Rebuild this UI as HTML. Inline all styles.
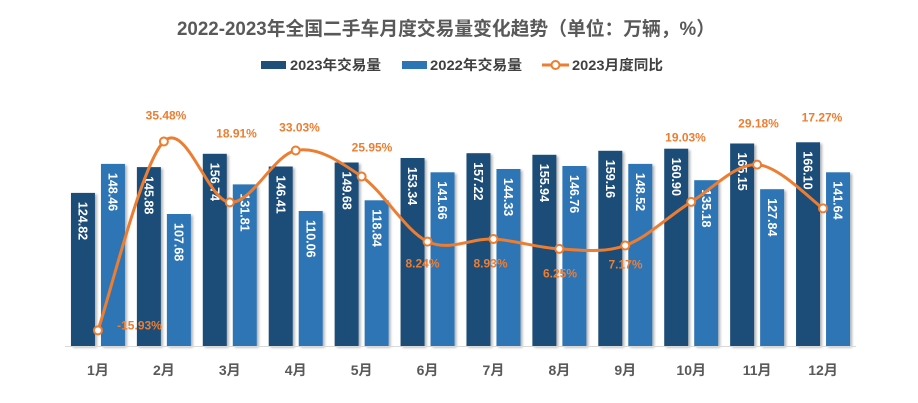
<!DOCTYPE html>
<html><head><meta charset="utf-8"><style>
html,body{margin:0;padding:0;background:#fff;}
svg{display:block;font-family:"Liberation Sans","Noto Sans CJK SC",sans-serif;}
.bl{font-size:12.5px;font-weight:bold;fill:#fff;}
.pl{font-size:12px;font-weight:bold;fill:#ED7D31;text-anchor:middle;}
.ml{font-size:14px;font-weight:bold;fill:#595959;text-anchor:middle;}
.lg{font-size:14px;font-weight:bold;fill:#404040;}
</style></head><body>
<svg width="918" height="403" viewBox="0 0 918 403" xmlns="http://www.w3.org/2000/svg">
<defs>
<filter id="sh" x="-20%" y="-5%" width="150%" height="115%">
<feDropShadow dx="2" dy="1.5" stdDeviation="1.3" flood-color="#000" flood-opacity="0.3"/>
</filter>
</defs>
<rect width="918" height="403" fill="#fff"/>
<text x="446" y="35" text-anchor="middle" font-size="19" font-weight="bold" fill="#595959" textLength="538" lengthAdjust="spacingAndGlyphs">2022-2023年全国二手车月度交易量变化趋势（单位：万辆，%）</text>

<!-- legend -->
<rect x="261" y="61" width="25" height="8" fill="#1F4E79"/>
<text class="lg" x="290" y="70" textLength="91" lengthAdjust="spacingAndGlyphs">2023年交易量</text>
<rect x="402" y="61" width="25" height="8" fill="#2E75B6"/>
<text class="lg" x="430" y="70" textLength="92" lengthAdjust="spacingAndGlyphs">2022年交易量</text>
<line x1="542" y1="65" x2="569" y2="65" stroke="#ED7D31" stroke-width="3"/>
<circle cx="555.5" cy="65" r="4" fill="#fff" stroke="#ED7D31" stroke-width="2"/>
<text class="lg" x="572" y="70" textLength="91" lengthAdjust="spacingAndGlyphs">2023月度同比</text>

<!-- bars -->
<g filter="url(#sh)">
<rect x="70.96" y="192.9" width="24" height="153.1" fill="#1F4E79"/>
<rect x="100.96" y="163.9" width="24" height="182.1" fill="#2E75B6"/>
<rect x="136.88" y="167.1" width="24" height="178.9" fill="#1F4E79"/>
<rect x="166.88" y="214.0" width="24" height="132.0" fill="#2E75B6"/>
<rect x="202.79" y="153.8" width="24" height="192.2" fill="#1F4E79"/>
<rect x="232.79" y="184.4" width="24" height="161.6" fill="#2E75B6"/>
<rect x="268.71" y="166.5" width="24" height="179.5" fill="#1F4E79"/>
<rect x="298.71" y="211.0" width="24" height="135.0" fill="#2E75B6"/>
<rect x="334.63" y="162.5" width="24" height="183.5" fill="#1F4E79"/>
<rect x="364.63" y="200.3" width="24" height="145.7" fill="#2E75B6"/>
<rect x="400.54" y="158.0" width="24" height="188.0" fill="#1F4E79"/>
<rect x="430.54" y="172.3" width="24" height="173.7" fill="#2E75B6"/>
<rect x="466.46" y="153.2" width="24" height="192.8" fill="#1F4E79"/>
<rect x="496.46" y="169.0" width="24" height="177.0" fill="#2E75B6"/>
<rect x="532.38" y="154.8" width="24" height="191.2" fill="#1F4E79"/>
<rect x="562.38" y="166.0" width="24" height="180.0" fill="#2E75B6"/>
<rect x="598.29" y="150.8" width="24" height="195.2" fill="#1F4E79"/>
<rect x="628.29" y="163.9" width="24" height="182.1" fill="#2E75B6"/>
<rect x="664.21" y="148.7" width="24" height="197.3" fill="#1F4E79"/>
<rect x="694.21" y="180.2" width="24" height="165.8" fill="#2E75B6"/>
<rect x="730.13" y="143.5" width="24" height="202.5" fill="#1F4E79"/>
<rect x="760.13" y="189.2" width="24" height="156.8" fill="#2E75B6"/>
<rect x="796.04" y="142.3" width="24" height="203.7" fill="#1F4E79"/>
<rect x="826.04" y="172.3" width="24" height="173.7" fill="#2E75B6"/>
</g>

<!-- axis -->
<line x1="65" y1="346.5" x2="856" y2="346.5" stroke="#D9D9D9" stroke-width="1"/>

<!-- bar labels -->
<g class="bl">
<text transform="translate(82.96,201.9) rotate(90)" dy="0.35em">124.82</text>
<text transform="translate(112.96,172.9) rotate(90)" dy="0.35em">148.46</text>
<text transform="translate(148.88,176.1) rotate(90)" dy="0.35em">145.88</text>
<text transform="translate(178.88,223.0) rotate(90)" dy="0.35em">107.68</text>
<text transform="translate(214.79,162.8) rotate(90)" dy="0.35em">156.74</text>
<text transform="translate(244.79,193.4) rotate(90)" dy="0.35em">131.81</text>
<text transform="translate(280.71,175.5) rotate(90)" dy="0.35em">146.41</text>
<text transform="translate(310.71,220.0) rotate(90)" dy="0.35em">110.06</text>
<text transform="translate(346.63,171.5) rotate(90)" dy="0.35em">149.68</text>
<text transform="translate(376.63,209.3) rotate(90)" dy="0.35em">118.84</text>
<text transform="translate(412.54,167.0) rotate(90)" dy="0.35em">153.34</text>
<text transform="translate(442.54,181.3) rotate(90)" dy="0.35em">141.66</text>
<text transform="translate(478.46,162.2) rotate(90)" dy="0.35em">157.22</text>
<text transform="translate(508.46,178.0) rotate(90)" dy="0.35em">144.33</text>
<text transform="translate(544.38,163.8) rotate(90)" dy="0.35em">155.94</text>
<text transform="translate(574.38,175.0) rotate(90)" dy="0.35em">146.76</text>
<text transform="translate(610.29,159.8) rotate(90)" dy="0.35em">159.16</text>
<text transform="translate(640.29,172.9) rotate(90)" dy="0.35em">148.52</text>
<text transform="translate(676.21,157.7) rotate(90)" dy="0.35em">160.90</text>
<text transform="translate(706.21,189.2) rotate(90)" dy="0.35em">135.18</text>
<text transform="translate(742.13,152.5) rotate(90)" dy="0.35em">165.15</text>
<text transform="translate(772.13,198.2) rotate(90)" dy="0.35em">127.84</text>
<text transform="translate(808.04,151.3) rotate(90)" dy="0.35em">166.10</text>
<text transform="translate(838.04,181.3) rotate(90)" dy="0.35em">141.64</text>
</g>

<!-- line -->
<path d="M97.96 330.38 C108.95 298.90 141.91 162.84 163.88 141.50 C185.85 120.16 207.82 200.87 229.79 202.37 C251.76 203.87 273.74 154.81 295.71 150.50 C317.68 146.19 339.66 161.33 361.63 176.51 C383.60 191.69 405.57 231.16 427.54 241.58 C449.51 252.00 471.49 237.82 493.46 239.04 C515.43 240.26 537.41 247.81 559.38 248.89 C581.35 249.97 603.32 253.34 625.29 245.51 C647.26 237.68 669.24 215.41 691.21 201.93 C713.18 188.45 735.16 163.56 757.13 164.64 C779.10 165.72 812.05 201.11 823.04 208.40" fill="none" stroke="#ED7D31" stroke-width="3" stroke-linecap="round" stroke-linejoin="round"/>
<g fill="#fff" stroke="#ED7D31" stroke-width="2">
<circle cx="97.96" cy="330.38" r="4"/>
<circle cx="163.88" cy="141.50" r="4"/>
<circle cx="229.79" cy="202.37" r="4"/>
<circle cx="295.71" cy="150.50" r="4"/>
<circle cx="361.63" cy="176.51" r="4"/>
<circle cx="427.54" cy="241.58" r="4"/>
<circle cx="493.46" cy="239.04" r="4"/>
<circle cx="559.38" cy="248.89" r="4"/>
<circle cx="625.29" cy="245.51" r="4"/>
<circle cx="691.21" cy="201.93" r="4"/>
<circle cx="757.13" cy="164.64" r="4"/>
<circle cx="823.04" cy="208.40" r="4"/>
</g>

<!-- percent labels -->
<g class="pl">
<text x="139.5" y="329.3">-15.93%</text>
<text x="166" y="119.3">35.48%</text>
<text x="236.5" y="137.3">18.91%</text>
<text x="299.5" y="131.3">33.03%</text>
<text x="372" y="151.3">25.95%</text>
<text x="422.5" y="267.3">8.24%</text>
<text x="490.5" y="267.3">8.93%</text>
<text x="560" y="277.3">6.25%</text>
<text x="625.5" y="268.3">7.17%</text>
<text x="685.5" y="141.3">19.03%</text>
<text x="758.5" y="127.3">29.18%</text>
<text x="822" y="121.3">17.27%</text>
</g>

<!-- month labels -->
<g class="ml">
<text x="97.96" y="375">1月</text>
<text x="163.88" y="375">2月</text>
<text x="229.79" y="375">3月</text>
<text x="295.71" y="375">4月</text>
<text x="361.63" y="375">5月</text>
<text x="427.54" y="375">6月</text>
<text x="493.46" y="375">7月</text>
<text x="559.38" y="375">8月</text>
<text x="625.29" y="375">9月</text>
<text x="691.21" y="375">10月</text>
<text x="757.13" y="375">11月</text>
<text x="823.04" y="375">12月</text>
</g>
</svg>
</body></html>
